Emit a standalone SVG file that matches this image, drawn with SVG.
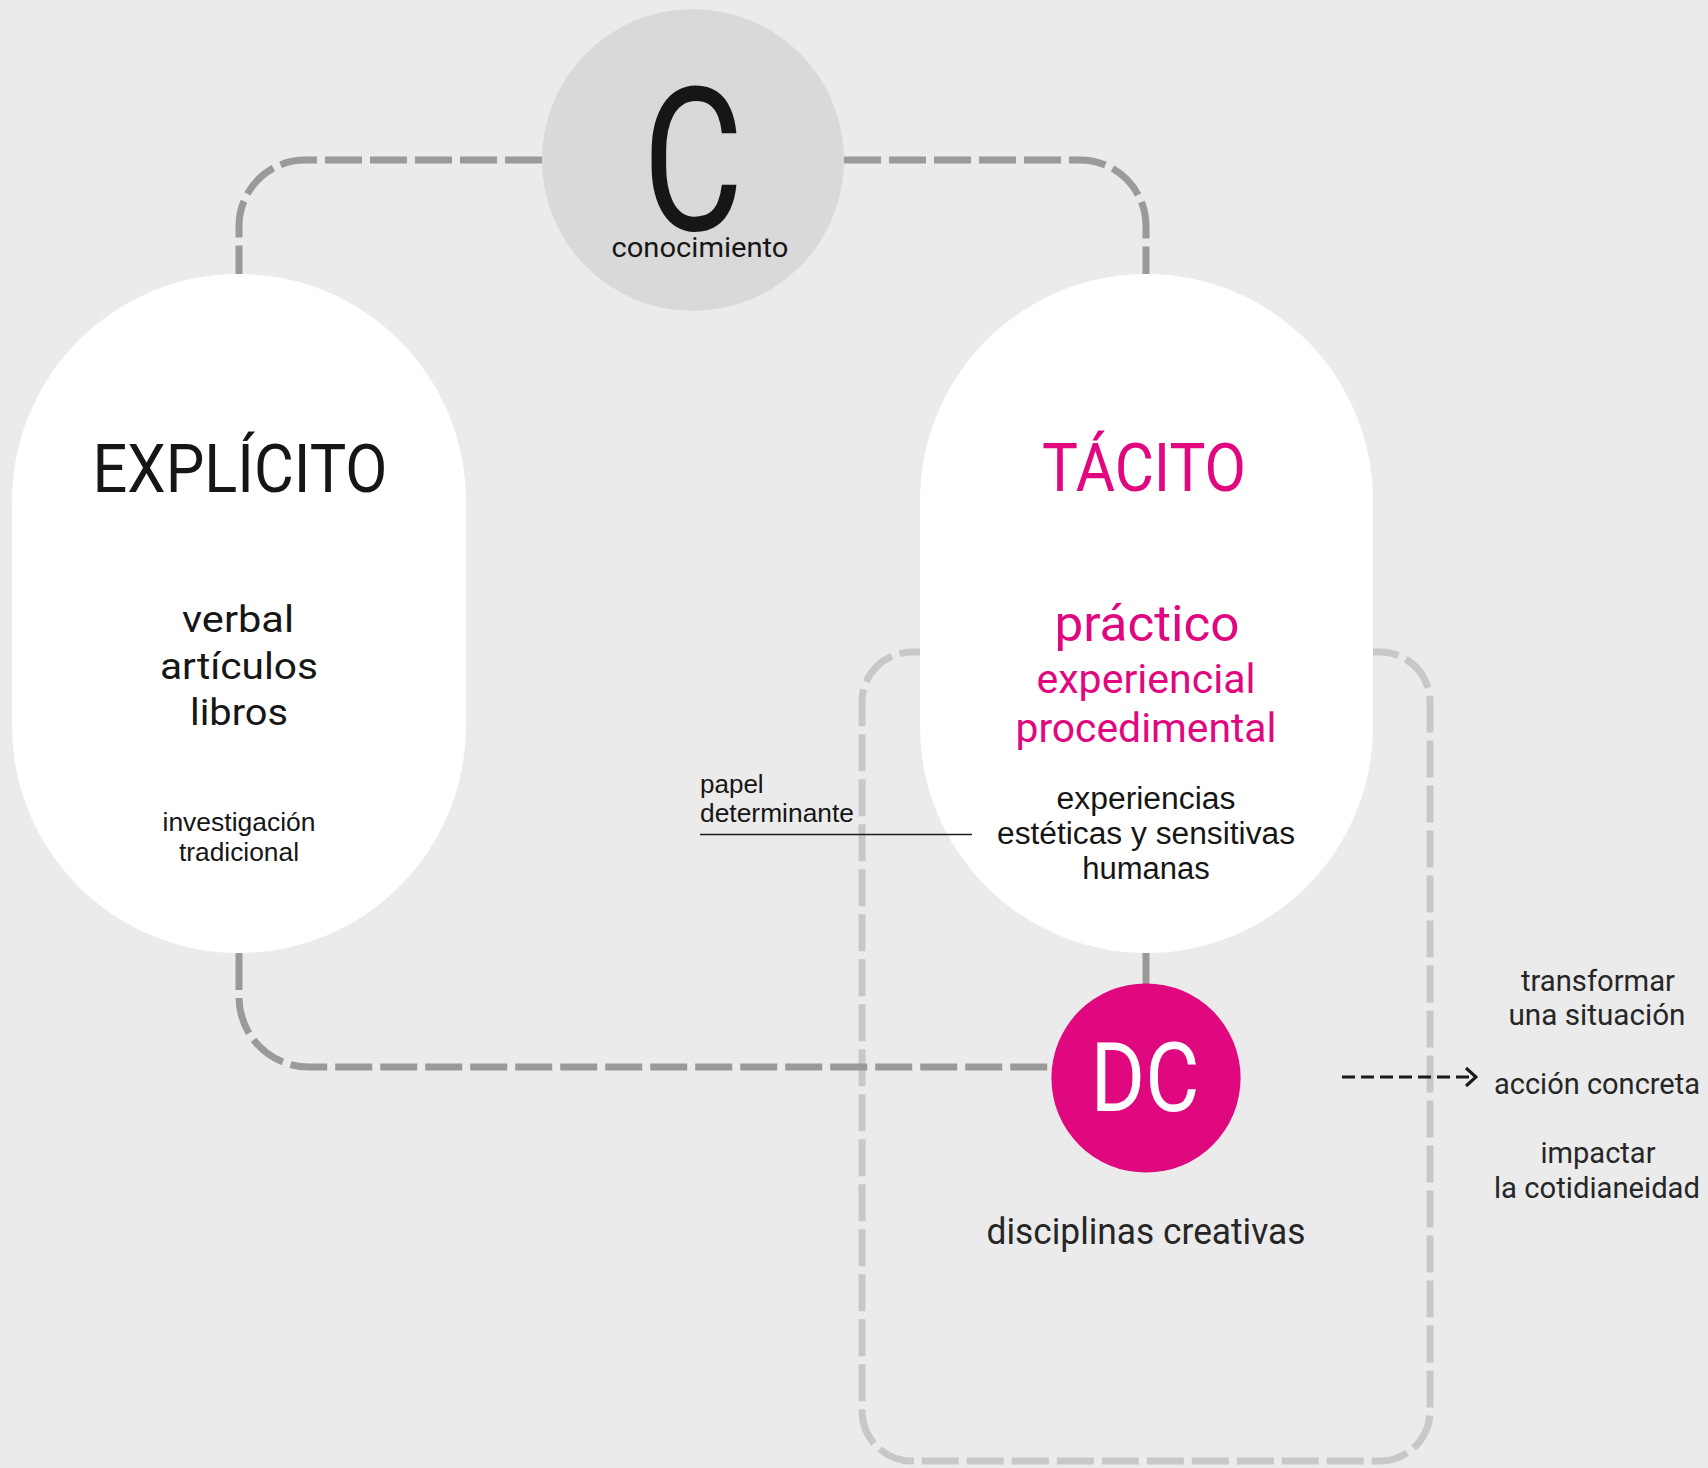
<svg xmlns="http://www.w3.org/2000/svg" width="1708" height="1468" viewBox="0 0 1708 1468">
<defs>
<style>
.cond{font-family:Roboto,"Liberation Sans",sans-serif;text-anchor:middle}
.ar{font-family:"Liberation Sans",Arial,sans-serif}
.dk{fill:#161616}
.mg{fill:#E0077F}
.gr{fill:#262626}
.dash{fill:none;stroke:#9a9a9a;stroke-width:7;stroke-dasharray:37 8}
.ldash{fill:none;stroke:#c8c8c8;stroke-width:7;stroke-dasharray:37 8}
</style>
<marker id="ah" markerWidth="14" markerHeight="22" refX="12" refY="11" orient="auto" markerUnits="userSpaceOnUse">
<polyline points="2,2 12,11 2,20" fill="none" stroke="#1a1a1a" stroke-width="3.2"/>
</marker>
</defs>
<rect width="1708" height="1468" fill="#ebebeb"/>
<g id="frame-dc">
<rect class="ldash" x="862" y="652" width="568" height="809" rx="50"/>
</g>
<g id="connectors">
<path class="dash" d="M542 160 H305 A66 66 0 0 0 239 226 V274"/>
<path class="dash" d="M844 160 H1080 A66 66 0 0 1 1146 226 V274"/>
<path class="dash" d="M239 953 V997 A70 70 0 0 0 309 1067 H1060"/>
<line x1="1146" y1="950" x2="1146" y2="988" stroke="#9a9a9a" stroke-width="7"/>
<line x1="1342" y1="1077" x2="1476" y2="1077" stroke="#1a1a1a" stroke-width="3.2" stroke-dasharray="13 6" marker-end="url(#ah)"/>
</g>
<g id="node-c">
<circle cx="693" cy="160" r="151" fill="#d9d9d9"/>
<text class="cond dk" x="693" y="230" font-size="200" textLength="101" lengthAdjust="spacingAndGlyphs">C</text>
<text class="cond dk" x="700" y="257" font-size="28" textLength="177" lengthAdjust="spacingAndGlyphs">conocimiento</text>
</g>
<g id="node-explicito">
<rect x="12" y="274" width="454" height="679" rx="227" fill="#ffffff"/>
<text class="cond dk" x="240" y="492" font-size="67" textLength="295" lengthAdjust="spacingAndGlyphs">EXPLÍCITO</text>
<text class="cond dk" x="238" y="632" font-size="37" textLength="112" lengthAdjust="spacingAndGlyphs">verbal</text>
<text class="cond dk" x="239" y="679" font-size="37" textLength="158" lengthAdjust="spacingAndGlyphs">artículos</text>
<text class="cond dk" x="239" y="725" font-size="37" textLength="98" lengthAdjust="spacingAndGlyphs">libros</text>
<text class="ar dk" x="239" y="831" font-size="26" text-anchor="middle" textLength="153" lengthAdjust="spacingAndGlyphs">investigación</text>
<text class="ar dk" x="239" y="861" font-size="26" text-anchor="middle" textLength="120" lengthAdjust="spacingAndGlyphs">tradicional</text>
</g>
<g id="node-tacito">
<rect x="920" y="274" width="453" height="679" rx="226.5" fill="#ffffff"/>
<text class="cond mg" x="1144" y="491" font-size="67" textLength="204" lengthAdjust="spacingAndGlyphs">TÁCITO</text>
<text class="cond mg" x="1147" y="641" font-size="50" textLength="185" lengthAdjust="spacingAndGlyphs">práctico</text>
<text class="cond mg" x="1146" y="693" font-size="40" textLength="219" lengthAdjust="spacingAndGlyphs">experiencial</text>
<text class="cond mg" x="1146" y="742" font-size="40" textLength="261" lengthAdjust="spacingAndGlyphs">procedimental</text>
<text class="ar dk" x="1146" y="809" font-size="31" text-anchor="middle" textLength="179" lengthAdjust="spacingAndGlyphs">experiencias</text>
<text class="ar dk" x="1146" y="844" font-size="31" text-anchor="middle" textLength="298" lengthAdjust="spacingAndGlyphs">estéticas y sensitivas</text>
<text class="ar dk" x="1146" y="879" font-size="31" text-anchor="middle">humanas</text>
</g>
<g id="node-dc">
<circle cx="1146" cy="1078" r="94.6" fill="#e0087f"/>
<text class="cond" x="1145" y="1111" font-size="97" fill="#ffffff" textLength="109" lengthAdjust="spacingAndGlyphs">DC</text>
<text class="cond gr" x="1146" y="1244" font-size="36" textLength="319" lengthAdjust="spacingAndGlyphs">disciplinas creativas</text>
</g>
<g id="note-papel">
<text class="ar dk" x="700" y="793" font-size="26">papel</text>
<text class="ar dk" x="700" y="822" font-size="26" textLength="154" lengthAdjust="spacingAndGlyphs">determinante</text>
<line x1="700" y1="834.5" x2="972" y2="834.5" stroke="#1e1e1e" stroke-width="1.6"/>
</g>
<g id="outcomes">
<text class="cond gr" x="1598" y="991" font-size="29" textLength="154" lengthAdjust="spacingAndGlyphs">transformar</text>
<text class="cond gr" x="1597" y="1025" font-size="29" textLength="177" lengthAdjust="spacingAndGlyphs">una situación</text>
<text class="cond gr" x="1597" y="1094" font-size="29" textLength="206" lengthAdjust="spacingAndGlyphs">acción concreta</text>
<text class="cond gr" x="1598" y="1163" font-size="29" textLength="115" lengthAdjust="spacingAndGlyphs">impactar</text>
<text class="cond gr" x="1597" y="1198" font-size="29" textLength="206" lengthAdjust="spacingAndGlyphs">la cotidianeidad</text>
</g>
</svg>
